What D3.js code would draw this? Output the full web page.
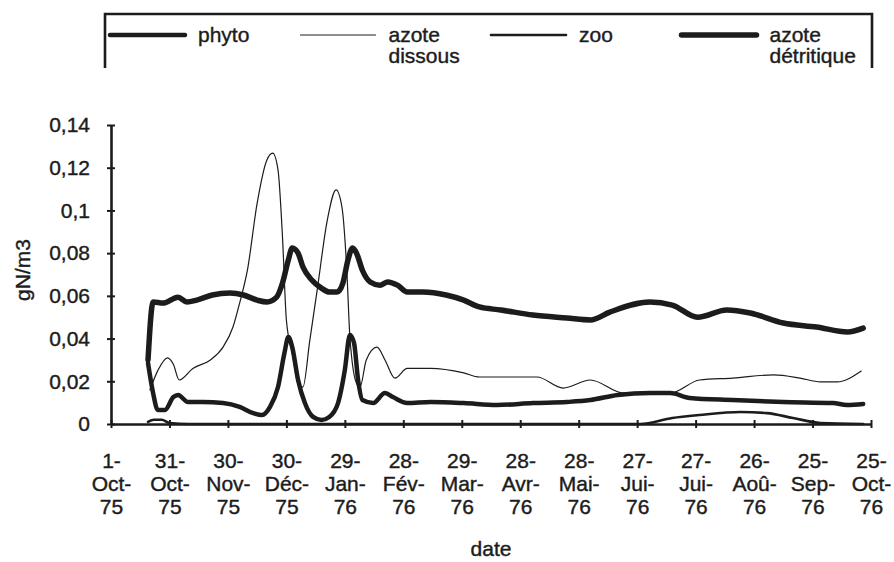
<!DOCTYPE html>
<html lang="fr">
<head>
<meta charset="utf-8">
<title>gN/m3 - date</title>
<script src="https://cdn.jsdelivr.net/npm/d3@7/dist/d3.min.js"></script>
<style>
  body { margin: 0; background: #fff; }
  svg text { font-family: "Liberation Sans", Arial, sans-serif; fill: #1c1c1c; stroke: #1c1c1c; stroke-width: 0.4px; }
</style>
</head>
<body>
<svg id="chart" width="894" height="562"></svg>
<script>

// x tick labels (one tick every 30 days from 1-Oct-75)
var tickDays = [0, 30, 60, 90, 120, 150, 180, 210, 240, 270, 300, 330, 360, 390];
var tickDay = ["1-", "31-", "30-", "30-", "29-", "28-", "29-", "28-", "28-", "27-", "27-", "26-", "25-", "25-"];
var tickMonth = ["Oct-", "Oct-", "Nov-", "Déc-", "Jan-", "Fév-", "Mar-", "Avr-", "Mai-", "Jui-", "Jui-", "Aoû-", "Sep-", "Oct-"];
var tickYear = ["75", "75", "75", "75", "76", "76", "76", "76", "76", "76", "76", "76", "76", "76"];
var yTicks = [0, 0.02, 0.04, 0.06, 0.08, 0.1, 0.12, 0.14];

// series : [day since 1-Oct-75, gN/m3]
var phyto = [[19,0.0285],[21.6,0.0145],[24,0.0066],[27.7,0.0066],[32,0.0126],[34.4,0.0136],[39.5,0.0103],
  [47,0.0103],[57.5,0.0098],[66,0.008],[73,0.0051],[77.5,0.0042],[81.6,0.008],[85.7,0.0173],[89,0.0332],
  [91,0.0407],[93,0.036],[96,0.0206],[99.5,0.0098],[103.7,0.0033],[108,0.0019],[112,0.0033],[116.5,0.0098],
  [120,0.0253],[122.6,0.0417],[124.7,0.038],[126.8,0.0206],[129,0.0112],[134.5,0.0098],[140.6,0.0145],
  [144.7,0.0126],[152,0.0098],[164,0.0103],[181,0.0098],[198,0.0089],[216.5,0.0098],[234,0.0103],
  [246,0.0112],[260,0.0136],[276.6,0.0145],[287,0.0145],[297,0.0122],[319,0.0112],[345,0.0103],
  [370.5,0.0098],[377.7,0.0089],[386,0.0094]];

var azoteDissous = [[20,0.016],[24,0.025],[29,0.031],[32,0.028],[35,0.0206],[42,0.026],[51,0.030],
  [57.5,0.036],[62.6,0.0454],[66,0.0566],[70,0.072],[75,0.1034],[80,0.1236],[83,0.1268],[85.7,0.119],
  [88,0.0875],[90,0.0487],[93,0.0332],[96,0.019],[98.5,0.0173],[102,0.039],[106,0.064],[111,0.0955],
  [115.5,0.1096],[118.5,0.1016],[121,0.072],[122.6,0.0407],[126,0.019],[127.8,0.0173],[131,0.030],
  [136.5,0.036],[140.6,0.030],[145.7,0.0215],[152,0.026],[164,0.026],[181,0.0239],[189,0.022],
  [200,0.022],[218.6,0.022],[232,0.0168],[246,0.0206],[263,0.0145],[276.6,0.0145],[287,0.0145],
  [302,0.0206],[319,0.0215],[340,0.023],[353.6,0.0215],[364,0.0197],[372.6,0.0197],[385,0.0248]];

var zoo = [[19,0.001],[22,0.002],[26,0.002],[30,0.0005],[40,0],[100,0],[200,0],[271.5,0],[288,0.0028],
  [302,0.0042],[323,0.0056],[336.6,0.0051],[350,0.0028],[364,0.0005],[386,0]];

var azoteDetritique = [[19,0.030],[21.6,0.0571],[26.7,0.0566],[34.4,0.0594],[39,0.0571],[44,0.058],
  [52,0.0604],[61,0.0613],[68,0.0604],[75,0.058],[80,0.0571],[85,0.0594],[88,0.066],[91,0.0768],
  [93,0.0824],[96,0.080],[98.5,0.0735],[103,0.0674],[108,0.0636],[112,0.0618],[116,0.0618],[119,0.066],
  [121.6,0.0768],[124,0.0824],[126,0.080],[129,0.072],[133,0.0665],[138,0.065],[142,0.0665],[147,0.065],
  [152,0.0618],[160,0.0618],[172,0.0604],[181,0.058],[189,0.0548],[200,0.0534],[216.5,0.051],
  [234,0.0496],[246,0.0487],[256,0.0524],[276.6,0.0571],[288,0.0557],[301,0.050],[316,0.0534],
  [328,0.052],[345,0.0473],[362,0.0454],[378,0.0431],[386,0.0449]];

var legendNames = [["phyto"], ["azote", "dissous"], ["zoo"], ["azote", "détritique"]];

var svg = d3.select("#chart");
var ink = "#1c1c1c";
var fontSize = 21;

var x = d3.scaleLinear().domain([0, 390]).range([111, 871]);
var y = d3.scaleLinear().domain([0, 0.14]).range([424, 125]);

var series = [
  {data: phyto, width: 4.5},
  {data: azoteDissous, width: 1.2},
  {data: zoo, width: 2.6},
  {data: azoteDetritique, width: 5.5}
];

var line = d3.line()
  .x(function(d) { return x(d[0]); })
  .y(function(d) { return y(d[1]); })
  .curve(d3.curveMonotoneX);

svg.selectAll("path.serie")
  .data(series)
  .enter().append("path")
  .attr("class", "serie")
  .attr("d", function(s) { return line(s.data); })
  .attr("fill", "none")
  .attr("stroke", ink)
  .attr("stroke-width", function(s) { return s.width; })
  .attr("stroke-linejoin", "round")
  .attr("stroke-linecap", "round");

// y axis, ticks cross the line
var yAxis = svg.append("g")
  .attr("transform", "translate(111,0)")
  .call(d3.axisLeft(y).tickValues(yTicks).tickSizeOuter(0).tickPadding(15)
    .tickFormat(function(d) { return d === 0 ? "0" : String(+d.toFixed(2)).replace(".", ","); }));
yAxis.select(".domain").attr("stroke", ink).attr("stroke-width", 2.6);
yAxis.selectAll(".tick line").attr("x1", -4).attr("x2", 4).attr("stroke", ink).attr("stroke-width", 2);
yAxis.selectAll(".tick text").attr("font-size", fontSize).attr("fill", ink);

// x axis with three-line labels
var xAxis = svg.append("g")
  .attr("transform", "translate(0,424)")
  .call(d3.axisBottom(x).tickValues(tickDays).tickSizeOuter(0).tickFormat(""));
xAxis.select(".domain").attr("stroke", ink).attr("stroke-width", 2.6);
xAxis.selectAll(".tick line").attr("y1", -4).attr("y2", 4).attr("stroke", ink).attr("stroke-width", 2);
xAxis.selectAll(".tick").each(function(d, i) {
  var t = d3.select(this).select("text")
    .attr("y", 0).attr("dy", null)
    .attr("font-size", fontSize).attr("fill", ink).attr("text-anchor", "middle");
  [tickDay[i], tickMonth[i], tickYear[i]].forEach(function(s, k) {
    t.append("tspan").attr("x", 0).attr("y", 44 + k * 23).text(s);
  });
});

svg.append("text")
  .attr("x", 491).attr("y", 556)
  .attr("text-anchor", "middle").attr("font-size", fontSize)
  .text("date");

svg.append("text")
  .attr("transform", "translate(30,270) rotate(-90)")
  .attr("text-anchor", "middle").attr("font-size", fontSize)
  .text("gN/m3");

// legend box, open at the bottom as on the scan
var legend = svg.append("g");
legend.append("path")
  .attr("d", "M105,68V14H872V68")
  .attr("fill", "none").attr("stroke", ink).attr("stroke-width", 2.6);

var item = legend.selectAll("g.item")
  .data(series)
  .enter().append("g")
  .attr("class", "item")
  .attr("transform", function(d, i) { return "translate(" + (110 + i * 190.5) + ",35)"; });

item.append("line")
  .attr("x1", 0).attr("x2", 75)
  .attr("stroke", ink)
  .attr("stroke-width", function(s) { return s.width; })
  .attr("stroke-linecap", "round");

item.append("text")
  .attr("font-size", fontSize)
  .each(function(d, i) {
    var t = d3.select(this);
    legendNames[i].forEach(function(s, k) {
      t.append("tspan").attr("x", 88).attr("y", 7 + k * 21).text(s);
    });
  });

</script>
</body>
</html>
